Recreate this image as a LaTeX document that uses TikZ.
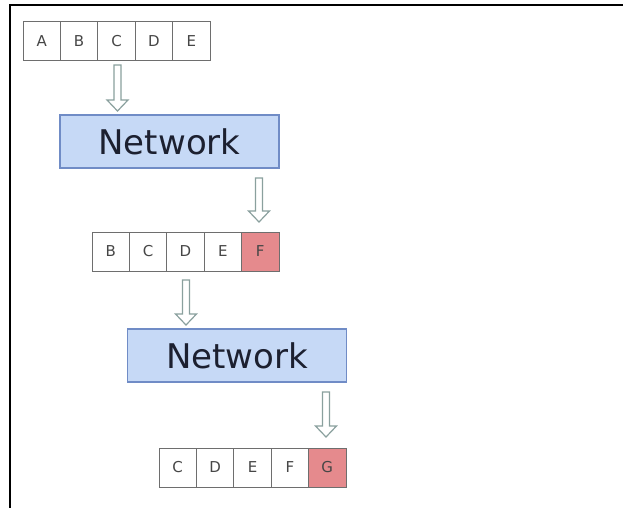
\documentclass[tikz,border=0pt]{standalone}
\usepackage{fontspec}
\setmainfont{DejaVu Sans}
\definecolor{netfill}{RGB}{198,217,246}
\definecolor{netdraw}{RGB}{112,140,198}
\definecolor{nettext}{RGB}{28,32,48}
\definecolor{hotfill}{RGB}{229,138,141}
\definecolor{celldraw}{RGB}{110,110,110}
\definecolor{celltext}{RGB}{70,70,70}
\definecolor{arrowdraw}{RGB}{138,160,158}
\begin{document}
\begin{tikzpicture}[x=1pt,y=-1pt,
  cellbox/.style={draw=celldraw,line width=1pt,minimum width=37.4pt,minimum height=39pt,inner sep=0pt,text=celltext,font=\fontsize{15}{17}\selectfont},
  hotcell/.style={cellbox,fill=hotfill},
  netbox/.style={draw=netdraw,line width=1.6pt,fill=netfill,minimum width=219pt,minimum height=53pt,inner sep=0pt,text=nettext,font=\fontsize{34}{40}\selectfont},
  arrowline/.style={draw=arrowdraw,line width=1.2pt,fill=white}]
\useasboundingbox (0,0) rectangle (623,508);
\fill[white] (0,0) rectangle (623,508);
% frame
\draw[line width=2pt] (623,5) -- (10,5) -- (10,508);
\newcommand\barrow[3]{%
  \draw[arrowline] (#1-3.5,#2) -- (#1+3.5,#2) -- (#1+3.5,#3-11) -- (#1+10.5,#3-11) -- (#1,#3) -- (#1-10.5,#3-11) -- (#1-3.5,#3-11) -- cycle;}
% row 1
\foreach \l [count=\i from 0] in {A,B,C,D,E}
  \node[cellbox] (r1\l) at (23+18.7+37.4*\i,41.5) {\l};
% network 1
\node[netbox] (net1) at (169.5,141.5) {Network};
% row 2
\foreach \l [count=\i from 0] in {B,C,D,E}
  \node[cellbox] (r2\l) at (92+18.7+37.4*\i,251.5) {\l};
\node[hotcell] (r2F) at (92+18.7+37.4*4,251.5) {F};
% network 2
\node[netbox] (net2) at (237,355.5) {Network};
% row 3
\foreach \l [count=\i from 0] in {C,D,E,F}
  \node[cellbox] (r3\l) at (159+18.7+37.4*\i,467.5) {\l};
\node[hotcell] (r3G) at (159+18.7+37.4*4,467.5) {G};
% arrows
\barrow{117.5}{65}{111}
\barrow{259}{178}{222}
\barrow{186}{280}{325}
\barrow{326}{392}{437}
\end{tikzpicture}
\end{document}
